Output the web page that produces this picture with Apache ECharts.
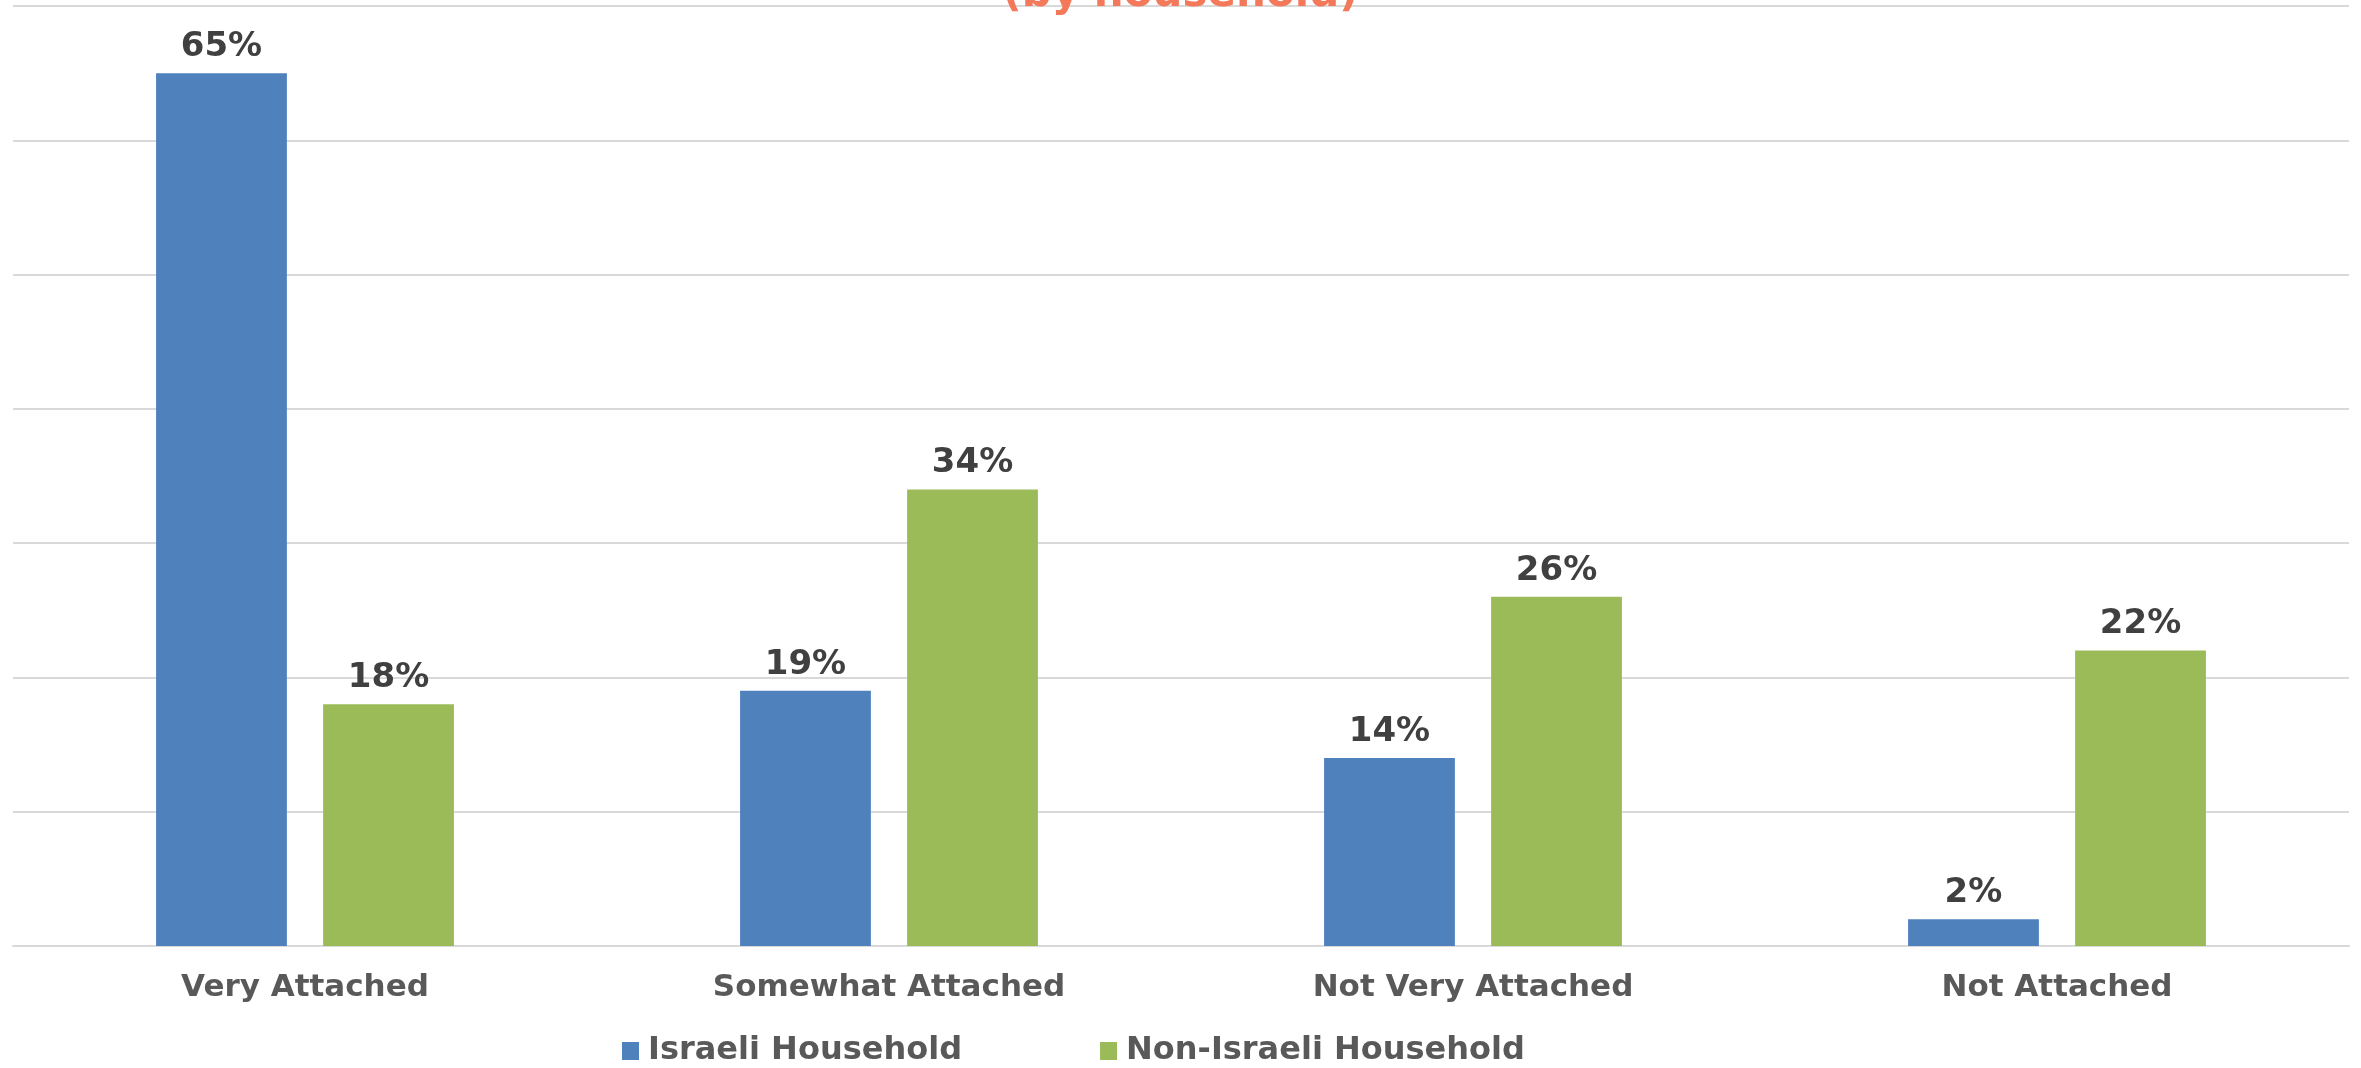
<!DOCTYPE html>
<html>
<head>
<meta charset="utf-8">
<script src="https://cdn.jsdelivr.net/npm/echarts@6/dist/echarts.min.js"></script>
<style>
  html, body { margin: 0; padding: 0; background: #fff; }
  #chart { width: 2361px; height: 1068px; }
</style>
</head>
<body>
<div id="chart"></div>
<script>
const categories = ['Very Attached', 'Somewhat Attached', 'Not Very Attached', 'Not Attached']
const israeliValues = [65, 19, 14, 2]
const nonIsraeliValues = [18, 34, 26, 22]
const seriesNames = ['Israeli Household', 'Non-Israeli Household']
const titleText = '(by household)'

const chart = echarts.init(document.getElementById('chart'))

// shared label style for the percentages over the bars
const barLabel = {
  show: true,
  position: 'top',
  distance: 9,
  formatter: '{c}%',
  color: '#404040',
  fontFamily: 'DejaVu Sans',
  fontWeight: 'bold',
  fontSize: 34
}

chart.setOption({
  animation: false,
  title: {
    text: titleText,
    left: 'center',
    top: -26,
    padding: 0,
    textStyle: {
      color: '#f4795b',
      fontFamily: 'DejaVu Sans',
      fontWeight: 'bold',
      fontSize: 42
    }
  },
  legend: {
    data: seriesNames,
    left: 622,
    top: 1035,
    padding: 0,
    itemWidth: 17,
    itemHeight: 18,
    itemGap: 138,
    icon: 'rect',
    textStyle: {
      color: '#595959',
      fontFamily: 'DejaVu Sans',
      fontWeight: 'bold',
      fontSize: 32,
      padding: [0, 0, 0, 4]
    }
  },
  grid: {
    left: 13,
    right: 12,
    top: 6,
    bottom: 122,
    containLabel: false
  },
  xAxis: {
    type: 'category',
    data: categories,
    axisTick: { show: false },
    axisLine: { lineStyle: { color: '#d9d9d9', width: 2 } },
    axisLabel: {
      margin: 26,
      color: '#595959',
      fontFamily: 'DejaVu Sans',
      fontWeight: 'bold',
      fontSize: 31
    }
  },
  yAxis: {
    type: 'value',
    min: 0,
    max: 70,
    interval: 10,
    axisLabel: { show: false },
    axisLine: { show: false },
    axisTick: { show: false },
    splitLine: { lineStyle: { color: '#d9d9d9', width: 2 } }
  },
  series: [
    {
      name: seriesNames[0],
      type: 'bar',
      data: israeliValues,
      barGap: '27.7%',
      barCategoryGap: '49%',
      itemStyle: { color: '#4f81bd' },
      label: barLabel
    },
    {
      name: seriesNames[1],
      type: 'bar',
      data: nonIsraeliValues,
      itemStyle: { color: '#9bbb59' },
      label: barLabel
    }
  ]
})
</script>
</body>
</html>
